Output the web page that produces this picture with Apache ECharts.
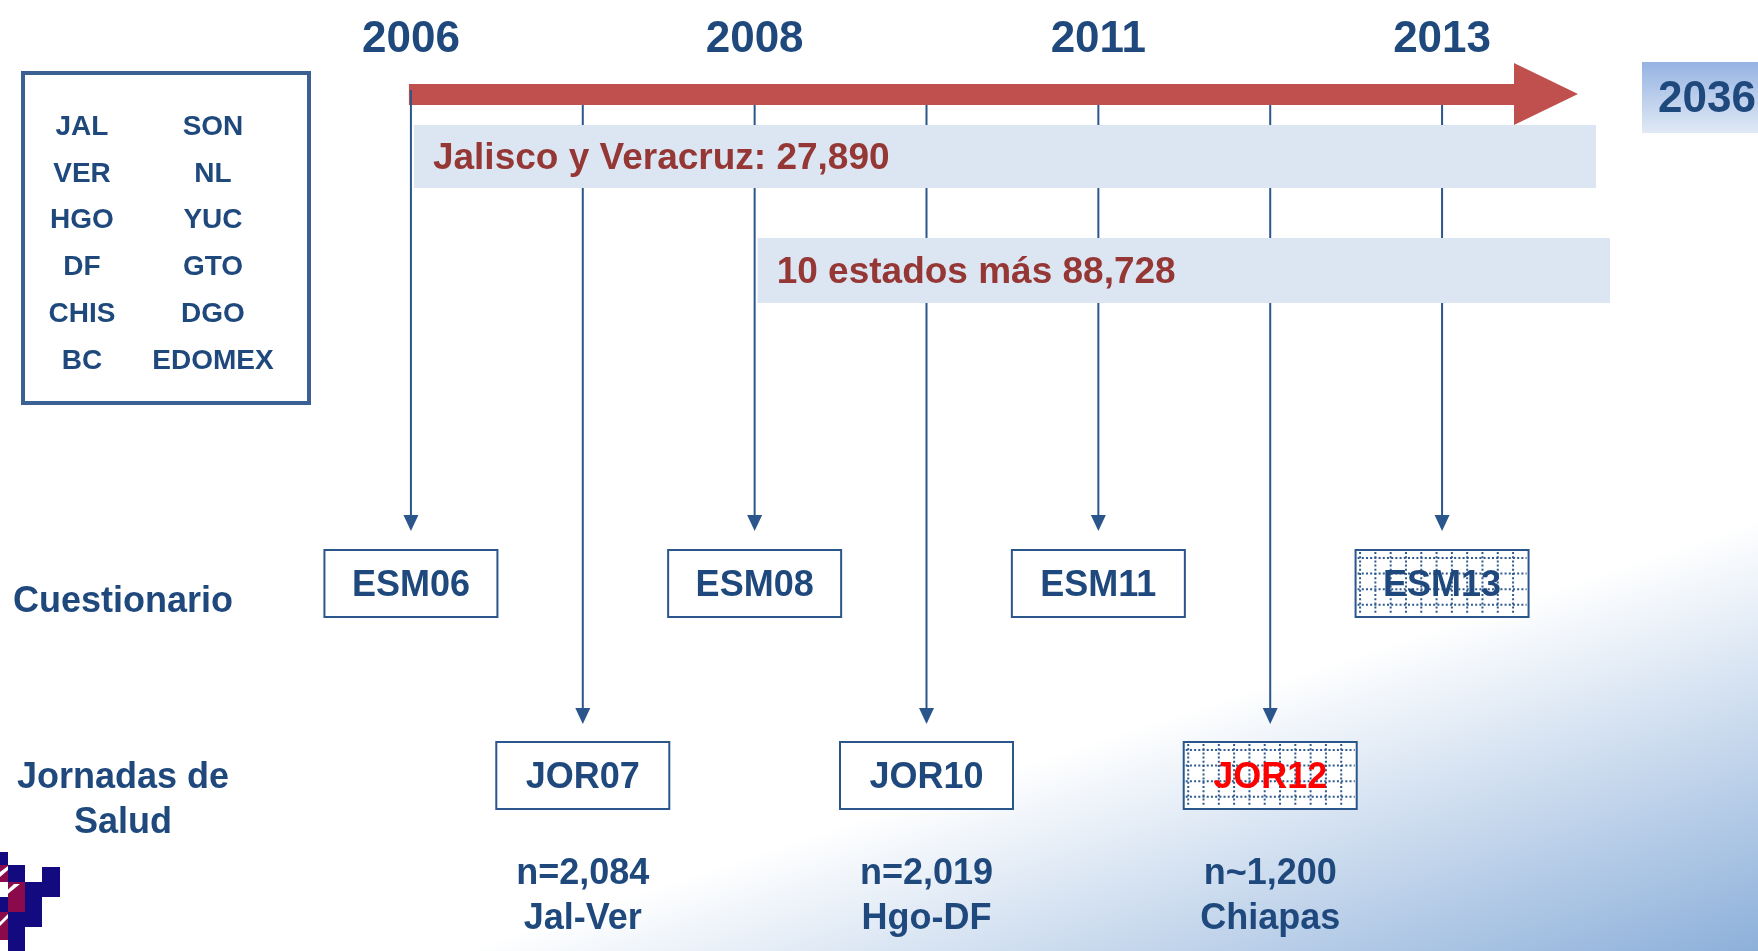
<!DOCTYPE html>
<html><head><meta charset="utf-8">
<script src="https://cdn.jsdelivr.net/npm/echarts@6/dist/echarts.min.js"></script>
<style>html,body{margin:0;padding:0;background:#fff}#c{width:1758px;height:951px}</style>
</head><body><div id="c"></div>
<script>
// ---------------- data ----------------
const eventCodes = ['ESM06','JOR07','ESM08','JOR10','ESM11','JOR12','ESM13'];
const eventYears = ['2006','2007','2008','2010','2011','2012','2013'];
const eventRow = [0,1,0,1,0,1,0];            // 0 = Cuestionario, 1 = Jornadas de Salud
const eventNotes = ['', 'n=2,084\nJal-Ver', '', 'n=2,019\nHgo-DF', '', 'n~1,200\nChiapas', ''];
const eventPlanned = [false,false,false,false,false,true,true];
const eventHighlight = [false,false,false,false,false,true,false];
const yearLabels = ['2006','2008','2011','2013'];
const horizonYear = '2036';
const bandLabels = ['Jalisco y Veracruz: 27,890','10 estados más 88,728'];
const bandStartYears = ['2006','2008'];
const rowLabels = ['Cuestionario','Jornadas de\nSalud'];
const statesLeft = ['JAL','VER','HGO','DF','CHIS','BC'];
const statesRight = ['SON','NL','YUC','GTO','DGO','EDOMEX'];

// ---------------- layout & style ----------------
const FF = '"Liberation Sans", Arial, sans-serif';
const NAVY = '#1F497D';
const LINE = '#2A568C';
const RED_TXT = '#953735';
const L = {
  barTop: 84, barBottom: 105, headX: 1514, headTop: 63, headBottom: 125, tipX: 1578,
  lineTop: 105, firstLineTop: 90,
  rowBoxTop: [550, 742], boxW: 173, boxH: 67,
  arrowEnd: [531, 724],
  bandTop: [125, 238], bandBottom: [188, 303], bandRight: [1596, 1610],
  noteY: 897, noteLH: 45
};

const chart = echarts.init(document.getElementById('c'), null, {renderer:'canvas'});

function font(sz){ return 'bold ' + sz + 'px ' + FF; }

const graphics = [];
// legend of states
graphics.push({type:'rect', shape:{x:23, y:73, width:286, height:330}, style:{fill:'rgba(255,255,255,0)', stroke:'#3B6192', lineWidth:4}, z:5});
statesLeft.forEach((s,i)=>{
  graphics.push({type:'text', x:82, y:127 + i*46.8, style:{text:s, font:font(28), fill:NAVY, align:'center', verticalAlign:'middle'}, z:5});
});
statesRight.forEach((s,i)=>{
  graphics.push({type:'text', x:213, y:127 + i*46.8, style:{text:s, font:font(28), fill:NAVY, align:'center', verticalAlign:'middle'}, z:5});
});
// row labels
graphics.push({type:'text', x:123, y:602, style:{text:rowLabels[0], font:font(36), fill:NAVY, align:'center', verticalAlign:'middle'}, z:5});
graphics.push({type:'text', x:123, y:801, style:{text:rowLabels[1], font:font(36), fill:NAVY, align:'center', verticalAlign:'middle', lineHeight:45}, z:5});
// horizon box
graphics.push({type:'rect', shape:{x:1642, y:62, width:116, height:71},
  style:{fill:new echarts.graphic.LinearGradient(0,0,0,1,[{offset:0,color:'#95B3E3'},{offset:1,color:'#E1E9F5'}])}, z:5});
graphics.push({type:'text', x:1707, y:100, style:{text:horizonYear, font:font(44), fill:NAVY, align:'center', verticalAlign:'middle'}, z:6});
// logo
const logoNavy = [[0,852,8,13],[8,865,17,17],[42,867,18,30],[25,882,17,45],[0,897,8,15],[8,912,17,39]];
const logoMaroon = [[0,865,8,17],[8,882,17,30],[0,912,8,28]];
logoNavy.forEach(r=>graphics.push({type:'rect', shape:{x:r[0],y:r[1],width:r[2],height:r[3]}, style:{fill:'#140A80'}, z:5}));
logoMaroon.forEach(r=>graphics.push({type:'rect', shape:{x:r[0],y:r[1],width:r[2],height:r[3]}, style:{fill:'#8A0A4C'}, z:5}));
graphics.push({type:'polygon', shape:{points:[[0,872],[8,866],[8,870],[0,877]]}, style:{fill:'#fff'}, z:6});
graphics.push({type:'polygon', shape:{points:[[0,897],[14,884],[20,884],[4,897]]}, style:{fill:'#fff'}, z:6});
graphics.push({type:'polygon', shape:{points:[[0,922],[8,914],[8,918],[0,926]]}, style:{fill:'#fff'}, z:6});

const option = {
  animation:false,
  backgroundColor: new echarts.graphic.LinearGradient(1758,520,1887,908,[
    {offset:0,color:'#FFFFFF'},{offset:1,color:'#8DB0DA'}], true),
  grid:{left:325, right:230, top:0, bottom:0},
  xAxis:{type:'category', data:eventYears, position:'top', offset:-62,
    axisLine:{show:false}, axisTick:{show:false}, splitLine:{show:false},
    axisLabel:{interval:0, margin:0, fontSize:44, fontWeight:'bold', fontFamily:FF, color:NAVY,
      formatter: v => yearLabels.indexOf(v) >= 0 ? v : ''}},
  yAxis:{type:'value', min:0, max:1, show:false},
  graphic: graphics,
  series:[
    { // red timeline arrow
      type:'custom', z:1, silent:true,
      data:[[eventYears[0], 0]],
      renderItem:function(params, api){
        const x = api.coord([api.value(0), 0])[0] - 2;
        return {type:'polygon', shape:{points:[[x,L.barTop],[L.headX,L.barTop],[L.headX,L.headTop],[L.tipX,(L.headTop+L.headBottom)/2],[L.headX,L.headBottom],[L.headX,L.barBottom],[x,L.barBottom]]},
          style:{fill:'#C0504D'}};
      }
    },
    { // events: arrows, boxes, notes
      type:'custom', z:2, silent:true,
      data: eventYears.map(y=>[y,0]),
      renderItem:function(params, api){
        const i = params.dataIndex;
        const x = api.coord([api.value(0), 0])[0];
        const row = eventRow[i];
        const by = L.rowBoxTop[row];
        const yEnd = L.arrowEnd[row];
        const yStart = i === 0 ? L.firstLineTop : L.lineTop;
        const ch = [];
        ch.push({type:'line', shape:{x1:x,y1:yStart,x2:x,y2:yEnd-12}, style:{stroke:LINE, lineWidth:2}});
        ch.push({type:'polygon', shape:{points:[[x-7.5,yEnd-16],[x+7.5,yEnd-16],[x,yEnd]]}, style:{fill:LINE}});
        const bx = x - L.boxW/2;
        ch.push({type:'rect', shape:{x:bx,y:by,width:L.boxW,height:L.boxH}, style:{fill:'#fff', stroke:LINE, lineWidth:2}});
        if (eventPlanned[i]) {
          for (let gx = bx + 4.5; gx < bx + L.boxW - 2; gx += 15.3) {
            ch.push({type:'line', shape:{x1:gx,y1:by+2,x2:gx,y2:by+L.boxH-2}, style:{stroke:'#2F5A8F', lineWidth:2, lineDash:[2,2.2]}});
          }
          for (let k = 0; k < 4; k++) {
            const gy = by + 8 + k*15.6;
            ch.push({type:'line', shape:{x1:bx+2,y1:gy,x2:bx+L.boxW-2,y2:gy}, style:{stroke:'#2F5A8F', lineWidth:2, lineDash:[2,2.2]}});
          }
        }
        ch.push({type:'text', style:{text:eventCodes[i], x:x, y:by+L.boxH/2+3, align:'center', verticalAlign:'middle',
          font:font(36), fill: eventHighlight[i] ? '#FF0000' : NAVY}});
        if (eventNotes[i]) {
          ch.push({type:'text', style:{text:eventNotes[i], x:x, y:L.noteY, align:'center', verticalAlign:'middle',
            font:font(36), lineHeight:L.noteLH, fill:NAVY}});
        }
        return {type:'group', children:ch};
      }
    },
    { // sample bands
      type:'custom', z:3, silent:true,
      data: bandStartYears.map(y=>[y,0]),
      renderItem:function(params, api){
        const i = params.dataIndex;
        const x0 = api.coord([api.value(0), 0])[0] + 3;
        const t = L.bandTop[i], b = L.bandBottom[i];
        return {type:'group', children:[
          {type:'rect', shape:{x:x0, y:t, width:L.bandRight[i]-x0, height:b-t}, style:{fill:'#DCE6F2'}},
          {type:'text', style:{text:bandLabels[i], x:x0+19, y:(t+b)/2+2, align:'left', verticalAlign:'middle', font:font(37), fill:RED_TXT}}
        ]};
      }
    }
  ]
};
chart.setOption(option);
</script>
</body></html>
